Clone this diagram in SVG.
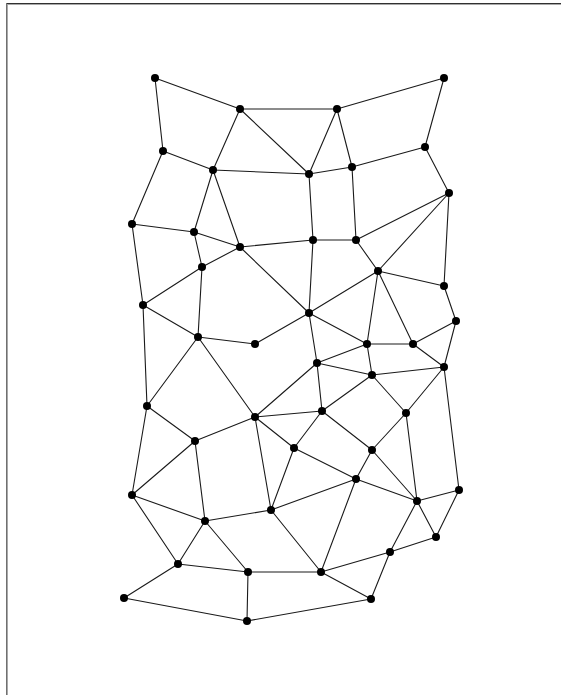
<svg xmlns="http://www.w3.org/2000/svg" width="561" height="695" viewBox="0 0 561 695">
<style>
.e line{stroke:#1a1a1a;stroke-width:1.1;stroke-linecap:round}
.n circle{fill:#000}
</style>
<rect x="0" y="0" width="561" height="695" fill="#fff"/>
<g id="frame">
<line x1="6" y1="3.5" x2="561" y2="3.5" stroke="#303030" stroke-width="1"/>
<line x1="7" y1="4.5" x2="561" y2="4.5" stroke="#a8a8a8" stroke-width="1"/>
<line x1="6.5" y1="3" x2="6.5" y2="695" stroke="#707070" stroke-width="1"/>
<line x1="7.5" y1="4" x2="7.5" y2="695" stroke="#a8a8a8" stroke-width="1"/>
</g>
<g id="connectors" class="e">
<line x1="155" y1="78" x2="240" y2="109"/>
<line x1="155" y1="78" x2="163" y2="151"/>
<line x1="240" y1="109" x2="337" y2="109"/>
<line x1="240" y1="109" x2="213" y2="170"/>
<line x1="240" y1="109" x2="309" y2="174"/>
<line x1="163" y1="151" x2="213" y2="170"/>
<line x1="163" y1="151" x2="132" y2="224"/>
<line x1="213" y1="170" x2="309" y2="174"/>
<line x1="213" y1="170" x2="194" y2="232"/>
<line x1="213" y1="170" x2="240" y2="247"/>
<line x1="132" y1="224" x2="194" y2="232"/>
<line x1="194" y1="232" x2="240" y2="247"/>
<line x1="240" y1="247" x2="313" y2="240"/>
<line x1="132" y1="224" x2="143" y2="305"/>
<line x1="194" y1="232" x2="202" y2="267"/>
<line x1="240" y1="247" x2="202" y2="267"/>
<line x1="240" y1="247" x2="309" y2="313"/>
<line x1="337" y1="109" x2="444" y2="78"/>
<line x1="337" y1="109" x2="309" y2="174"/>
<line x1="337" y1="109" x2="352" y2="167"/>
<line x1="444" y1="78" x2="425" y2="147"/>
<line x1="309" y1="174" x2="352" y2="167"/>
<line x1="352" y1="167" x2="425" y2="147"/>
<line x1="425" y1="147" x2="449" y2="193"/>
<line x1="309" y1="174" x2="313" y2="240"/>
<line x1="352" y1="167" x2="356" y2="240"/>
<line x1="313" y1="240" x2="356" y2="240"/>
<line x1="356" y1="240" x2="449" y2="193"/>
<line x1="449" y1="193" x2="378" y2="271"/>
<line x1="449" y1="193" x2="444" y2="286"/>
<line x1="356" y1="240" x2="378" y2="271"/>
<line x1="313" y1="240" x2="309" y2="313"/>
<line x1="378" y1="271" x2="444" y2="286"/>
<line x1="378" y1="271" x2="309" y2="313"/>
<line x1="378" y1="271" x2="367" y2="344"/>
<line x1="378" y1="271" x2="413" y2="344"/>
<line x1="444" y1="286" x2="456" y2="321"/>
<line x1="309" y1="313" x2="367" y2="344"/>
<line x1="309" y1="313" x2="317" y2="363"/>
<line x1="309" y1="313" x2="255" y2="344"/>
<line x1="367" y1="344" x2="413" y2="344"/>
<line x1="367" y1="344" x2="317" y2="363"/>
<line x1="367" y1="344" x2="372" y2="375"/>
<line x1="413" y1="344" x2="456" y2="321"/>
<line x1="413" y1="344" x2="444" y2="367"/>
<line x1="456" y1="321" x2="444" y2="367"/>
<line x1="317" y1="363" x2="372" y2="375"/>
<line x1="372" y1="375" x2="444" y2="367"/>
<line x1="317" y1="363" x2="322" y2="411"/>
<line x1="317" y1="363" x2="255" y2="417"/>
<line x1="372" y1="375" x2="322" y2="411"/>
<line x1="372" y1="375" x2="406" y2="413"/>
<line x1="444" y1="367" x2="406" y2="413"/>
<line x1="444" y1="367" x2="459" y2="490"/>
<line x1="255" y1="417" x2="322" y2="411"/>
<line x1="322" y1="411" x2="294" y2="448"/>
<line x1="322" y1="411" x2="372" y2="450"/>
<line x1="406" y1="413" x2="417" y2="501"/>
<line x1="406" y1="413" x2="372" y2="450"/>
<line x1="202" y1="267" x2="143" y2="305"/>
<line x1="202" y1="267" x2="198" y2="337"/>
<line x1="143" y1="305" x2="198" y2="337"/>
<line x1="198" y1="337" x2="255" y2="344"/>
<line x1="143" y1="305" x2="147" y2="406"/>
<line x1="198" y1="337" x2="147" y2="406"/>
<line x1="198" y1="337" x2="255" y2="417"/>
<line x1="147" y1="406" x2="195" y2="441"/>
<line x1="255" y1="417" x2="195" y2="441"/>
<line x1="255" y1="417" x2="271" y2="510"/>
<line x1="255" y1="417" x2="294" y2="448"/>
<line x1="147" y1="406" x2="132" y2="495"/>
<line x1="195" y1="441" x2="132" y2="495"/>
<line x1="195" y1="441" x2="205" y2="521"/>
<line x1="132" y1="495" x2="205" y2="521"/>
<line x1="132" y1="495" x2="178" y2="564"/>
<line x1="205" y1="521" x2="178" y2="564"/>
<line x1="205" y1="521" x2="248" y2="572"/>
<line x1="294" y1="448" x2="271" y2="510"/>
<line x1="271" y1="510" x2="205" y2="521"/>
<line x1="271" y1="510" x2="356" y2="479"/>
<line x1="271" y1="510" x2="321" y2="572"/>
<line x1="178" y1="564" x2="248" y2="572"/>
<line x1="178" y1="564" x2="124" y2="598"/>
<line x1="248" y1="572" x2="247" y2="621"/>
<line x1="124" y1="598" x2="247" y2="621"/>
<line x1="248" y1="572" x2="321" y2="572"/>
<line x1="247" y1="621" x2="371" y2="599"/>
<line x1="294" y1="448" x2="356" y2="479"/>
<line x1="372" y1="450" x2="356" y2="479"/>
<line x1="372" y1="450" x2="417" y2="501"/>
<line x1="356" y1="479" x2="417" y2="501"/>
<line x1="356" y1="479" x2="321" y2="572"/>
<line x1="417" y1="501" x2="459" y2="490"/>
<line x1="417" y1="501" x2="436" y2="537"/>
<line x1="417" y1="501" x2="390" y2="552"/>
<line x1="459" y1="490" x2="436" y2="537"/>
<line x1="436" y1="537" x2="390" y2="552"/>
<line x1="390" y1="552" x2="321" y2="572"/>
<line x1="321" y1="572" x2="371" y2="599"/>
<line x1="390" y1="552" x2="371" y2="599"/>
</g>
<g class="n">
<g id="n1"><circle cx="155" cy="78" r="4"/></g>
<g id="n2"><circle cx="240" cy="109" r="4"/></g>
<g id="n3"><circle cx="337" cy="109" r="4"/></g>
<g id="n4"><circle cx="444" cy="78" r="4"/></g>
<g id="n5"><circle cx="163" cy="151" r="4"/></g>
<g id="n6"><circle cx="213" cy="170" r="4"/></g>
<g id="n7"><circle cx="309" cy="174" r="4"/></g>
<g id="n8"><circle cx="352" cy="167" r="4"/></g>
<g id="n9"><circle cx="425" cy="147" r="4"/></g>
<g id="n10"><circle cx="449" cy="193" r="4"/></g>
<g id="n11"><circle cx="132" cy="224" r="4"/></g>
<g id="n12"><circle cx="194" cy="232" r="4"/></g>
<g id="n13"><circle cx="240" cy="247" r="4"/></g>
<g id="n14"><circle cx="313" cy="240" r="4"/></g>
<g id="n15"><circle cx="356" cy="240" r="4"/></g>
<g id="n16"><circle cx="202" cy="267" r="4"/></g>
<g id="n17"><circle cx="378" cy="271" r="4"/></g>
<g id="n18"><circle cx="444" cy="286" r="4"/></g>
<g id="n19"><circle cx="143" cy="305" r="4"/></g>
<g id="n20"><circle cx="198" cy="337" r="4"/></g>
<g id="n21"><circle cx="255" cy="344" r="4"/></g>
<g id="n22"><circle cx="309" cy="313" r="4"/></g>
<g id="n23"><circle cx="456" cy="321" r="4"/></g>
<g id="n24"><circle cx="367" cy="344" r="4"/></g>
<g id="n25"><circle cx="413" cy="344" r="4"/></g>
<g id="n26"><circle cx="317" cy="363" r="4"/></g>
<g id="n27"><circle cx="372" cy="375" r="4"/></g>
<g id="n28"><circle cx="444" cy="367" r="4"/></g>
<g id="n29"><circle cx="147" cy="406" r="4"/></g>
<g id="n30"><circle cx="255" cy="417" r="4"/></g>
<g id="n31"><circle cx="322" cy="411" r="4"/></g>
<g id="n32"><circle cx="406" cy="413" r="4"/></g>
<g id="n33"><circle cx="195" cy="441" r="4"/></g>
<g id="n34"><circle cx="294" cy="448" r="4"/></g>
<g id="n35"><circle cx="372" cy="450" r="4"/></g>
<g id="n36"><circle cx="356" cy="479" r="4"/></g>
<g id="n37"><circle cx="459" cy="490" r="4"/></g>
<g id="n38"><circle cx="132" cy="495" r="4"/></g>
<g id="n39"><circle cx="205" cy="521" r="4"/></g>
<g id="n40"><circle cx="271" cy="510" r="4"/></g>
<g id="n41"><circle cx="417" cy="501" r="4"/></g>
<g id="n42"><circle cx="436" cy="537" r="4"/></g>
<g id="n43"><circle cx="390" cy="552" r="4"/></g>
<g id="n44"><circle cx="178" cy="564" r="4"/></g>
<g id="n45"><circle cx="248" cy="572" r="4"/></g>
<g id="n46"><circle cx="321" cy="572" r="4"/></g>
<g id="n47"><circle cx="124" cy="598" r="4"/></g>
<g id="n48"><circle cx="371" cy="599" r="4"/></g>
<g id="n49"><circle cx="247" cy="621" r="4"/></g>
</g>
</svg>
